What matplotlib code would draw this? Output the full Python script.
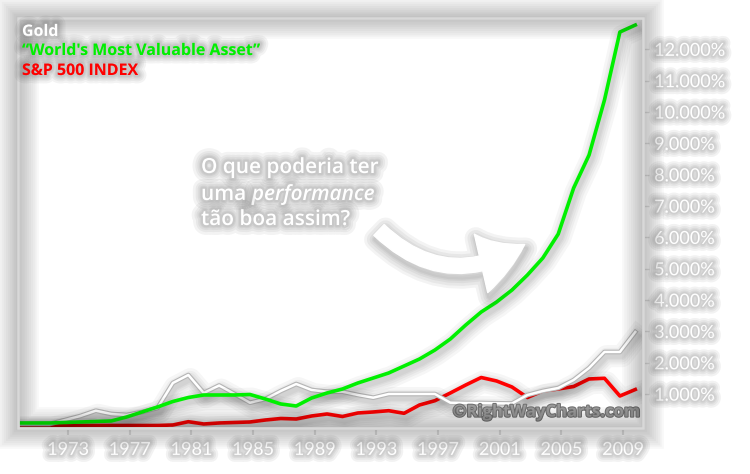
import matplotlib
matplotlib.use("Agg")
import matplotlib.pyplot as plt
import matplotlib.patheffects as pe
from matplotlib.patches import FancyArrowPatch, Rectangle
from matplotlib import font_manager

years = list(range(1970, 2011))

# "World's Most Valuable Asset" (green), cumulative % gain
asset = [80, 80, 80, 96, 112, 128, 144, 271, 431, 590,
         766, 893, 973, 973, 973, 989, 845, 686, 622, 877,
         1037, 1164, 1356, 1515, 1675, 1898, 2121, 2408, 2759, 3206,
         3620, 3939, 4322, 4801, 5343, 6108, 7576, 8629, 10383, 12552,
         12775]

# Gold (white)
gold = [48, 48, 48, 175, 303, 472, 367, 335, 431, 558,
        1356, 1611, 1037, 1276, 1005, 727, 845, 1101, 1324, 1132,
        1078, 1078, 973, 887, 1005, 1005, 1005, 1005, 727, 718,
        718, 708, 702, 973, 1101, 1196, 1452, 1834, 2345, 2345,
        2983]

# S&P 500 (red)
sp500 = [0, 0, 0, 0, 0, 0, 0, 0, 0, 0,
         16, 121, 48, 80, 96, 112, 175, 223, 207, 303,
         367, 287, 399, 431, 472, 389, 654, 791, 1037, 1292,
         1531, 1420, 1228, 893, 1101, 1164, 1244, 1484, 1506, 941,
         1148]

xtick_years = list(range(1973, 2010, 4))
ytick_values = list(range(1000, 13000, 1000))
ytick_labels = [f"{v:,}%".replace(",", ".") for v in ytick_values]

font_names = {f.name for f in font_manager.fontManager.ttflist}
tick_font = "Lato" if "Lato" in font_names else "DejaVu Sans"
text_font = "Open Sans" if "Open Sans" in font_names else "DejaVu Sans"


def glow(color="#2a2a2a", widths=(12, 9, 6.5, 4.5, 3), alpha=0.055):
    effects = [pe.Stroke(linewidth=w, foreground=color, alpha=alpha) for w in widths]
    return effects + [pe.Normal()]


def line_shadow(edge=None):
    effects = [pe.SimpleLineShadow(offset=(1.5, -3), shadow_color="k",
                                   alpha=0.035, linewidth=w)
               for w in (16, 12, 9, 6, 4)]
    if edge:
        effects.append(pe.Stroke(linewidth=3.4, foreground=edge))
    return effects + [pe.Normal()]


fig = plt.figure(figsize=(7.5, 4.74), dpi=100)
fig.patch.set_facecolor("white")
ax = fig.add_axes([18 / 750, 46 / 474, 625 / 750, 410 / 474])
ax.set_facecolor("white")

# data sampled slightly before each labelled year
xs = [y - 0.2 for y in years]
ax.plot(xs, sp500, color="#ff0000", lw=2.6, path_effects=line_shadow(), zorder=3)
ax.plot(xs, gold, color="white", lw=1.8, path_effects=line_shadow("#b5b5b5"), zorder=4)
ax.plot(xs, asset, color="#00f000", lw=2.6, path_effects=line_shadow(), zorder=5)

ax.set_xlim(1969.75, 2010.3)
ax.set_ylim(-80, 13000)

ax.yaxis.tick_right()
ax.set_yticks(ytick_values, labels=ytick_labels)
ax.set_xticks(xtick_years, labels=[str(y) for y in xtick_years])
ax.tick_params(axis="y", direction="out", length=4, width=1, color="#e0e0e0",
               pad=4, labelsize=13, labelcolor="white")
ax.tick_params(axis="x", direction="out", length=5, width=1.5, color="#e0e0e0",
               pad=5, labelsize=13, labelcolor="white")
for lab in ax.get_yticklabels() + ax.get_xticklabels():
    lab.set_fontfamily(tick_font)
    lab.set_path_effects(glow(widths=(10, 7, 4.5, 2.5), alpha=0.06))

for s in ax.spines.values():
    s.set_color("#d8d8d8")
    s.set_linewidth(2)

# soft shadow round the plot frame
frame = Rectangle((18 / 750, 46 / 474), 625 / 750, 410 / 474, transform=fig.transFigure,
                  facecolor="none", edgecolor="#d8d8d8", linewidth=2, zorder=1,
                  path_effects=[pe.Stroke(linewidth=w, foreground="#1a1a1a", alpha=0.028)
                                for w in range(30, 2, -3)] + [pe.Normal()])
fig.add_artist(frame)


def fx(px):
    return px / 750


def fy(py):
    return 1 - py / 474


# legend-like titles
title_kw = dict(fontsize=11.5, fontweight="bold", family=text_font, path_effects=glow())
fig.text(fx(22), fy(36), "Gold", color="white", **title_kw)
fig.text(fx(22), fy(55), "\u201cWorld's Most Valuable Asset\u201d", color="#00f000", **title_kw)
fig.text(fx(22), fy(75), "S&P 500 INDEX", color="#ff0000", **title_kw)

# annotation
note_kw = dict(color="white", fontsize=15, fontweight="semibold", family=text_font,
               path_effects=glow(widths=(14, 10, 7, 4.5, 3)))
fig.text(fx(201), fy(173), "O que poderia ter", **note_kw)
t_uma = fig.text(fx(201), fy(200), "uma", **note_kw)
ax.annotate("performance", xy=(1, 0), xycoords=t_uma, xytext=(4, 0),
            textcoords="offset points", va="bottom", ha="left",
            style="italic", **note_kw)
fig.text(fx(201), fy(225), "t\u00e3o boa assim?", **note_kw)

arrow = FancyArrowPatch(((377 - 18) / 625, (428 - 228) / 410),
                        ((527 - 18) / 625, (428 - 243) / 410),
                        transform=ax.transAxes,
                        connectionstyle="arc3,rad=0.4",
                        arrowstyle="simple,head_length=1.9,head_width=2.4,tail_width=0.6",
                        mutation_scale=18, facecolor="white", edgecolor="white",
                        linewidth=1, capstyle="round", zorder=6,
                        path_effects=[pe.Stroke(offset=(1, -3), linewidth=w, foreground="#1a1a1a",
                                                alpha=0.05) for w in (16, 12, 8, 5, 3)]
                        + [pe.Normal()])
ax.add_patch(arrow)

# watermark
ax.text(0.995, 0.018, "\u00a9RightWayCharts.com", transform=ax.transAxes,
        ha="right", va="bottom", fontsize=12, fontweight="bold", family=text_font,
        color="#9a9a9a", zorder=7,
        path_effects=[pe.Stroke(linewidth=1.5, foreground="#707070"), pe.Normal()])

fig.savefig("out.png", dpi=100, facecolor="white")
